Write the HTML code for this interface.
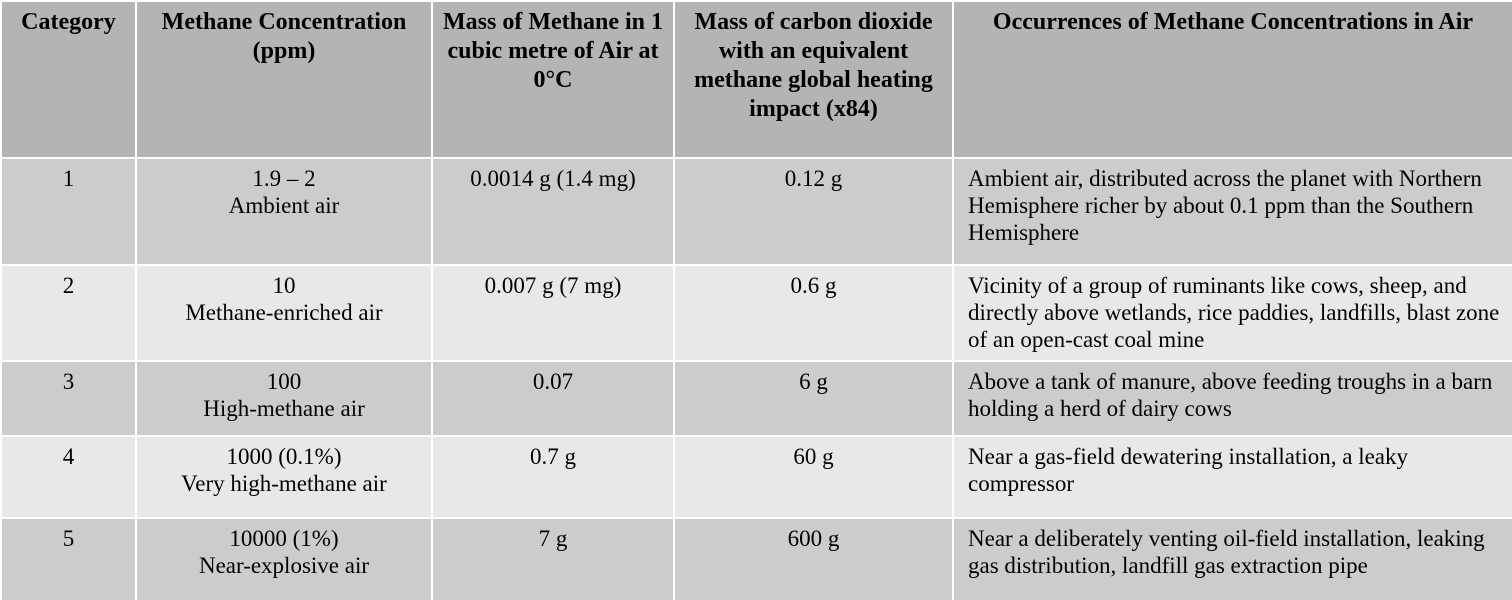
<!DOCTYPE html>
<html><head><meta charset="utf-8"><style>
html,body{margin:0;padding:0;width:1512px;height:600px;overflow:hidden;background:#fff}
table{border-collapse:collapse;table-layout:fixed;width:1512px;font-family:"Liberation Serif",serif;font-size:23px;color:#000}
td,th{border:2px solid #fff;vertical-align:top;text-align:center;padding:6px 6px 0 6px;line-height:27px;overflow:hidden}
th{background:#b4b4b4;font-weight:bold;font-size:24px;line-height:29px;padding-top:6px}
tr.r1 td,tr.r3 td,tr.r5 td{background:#cccccc}
tr.r2 td,tr.r4 td{background:#e8e8e8}
td.occ{text-align:left;padding-left:14px;padding-right:8px}
</style></head><body>
<table>
<colgroup><col style="width:135px"><col style="width:296px"><col style="width:242px"><col style="width:279px"><col style="width:560px"></colgroup>
<tr style="height:157px">
<th>Category</th>
<th>Methane Concentration<br>(ppm)</th>
<th>Mass of Methane in 1 cubic metre of Air at 0°C</th>
<th>Mass of carbon dioxide with an equivalent methane global heating impact (x84)</th>
<th>Occurrences of Methane Concentrations in Air</th>
</tr>
<tr class="r1" style="height:107px">
<td>1</td>
<td>1.9 – 2<br>Ambient air</td>
<td>0.0014 g (1.4 mg)</td>
<td>0.12 g</td>
<td class="occ">Ambient air, distributed across the planet with Northern Hemisphere richer by about 0.1 ppm than the Southern Hemisphere</td>
</tr>
<tr class="r2" style="height:96px">
<td>2</td>
<td>10<br>Methane-enriched air</td>
<td>0.007 g (7 mg)</td>
<td>0.6 g</td>
<td class="occ">Vicinity of a group of ruminants like cows, sheep, and directly above wetlands, rice paddies, landfills, blast zone of an open-cast coal mine</td>
</tr>
<tr class="r3" style="height:75px">
<td>3</td>
<td>100<br>High-methane air</td>
<td>0.07</td>
<td>6 g</td>
<td class="occ">Above a tank of manure, above feeding troughs in a barn holding a herd of dairy cows</td>
</tr>
<tr class="r4" style="height:82px">
<td>4</td>
<td>1000 (0.1%)<br>Very high-methane air</td>
<td>0.7 g</td>
<td>60 g</td>
<td class="occ">Near a gas-field dewatering installation, a leaky compressor</td>
</tr>
<tr class="r5" style="height:83px">
<td>5</td>
<td>10000 (1%)<br>Near-explosive air</td>
<td>7 g</td>
<td>600 g</td>
<td class="occ">Near a deliberately venting oil-field installation, leaking gas distribution, landfill gas extraction pipe</td>
</tr>
</table>
</body></html>
